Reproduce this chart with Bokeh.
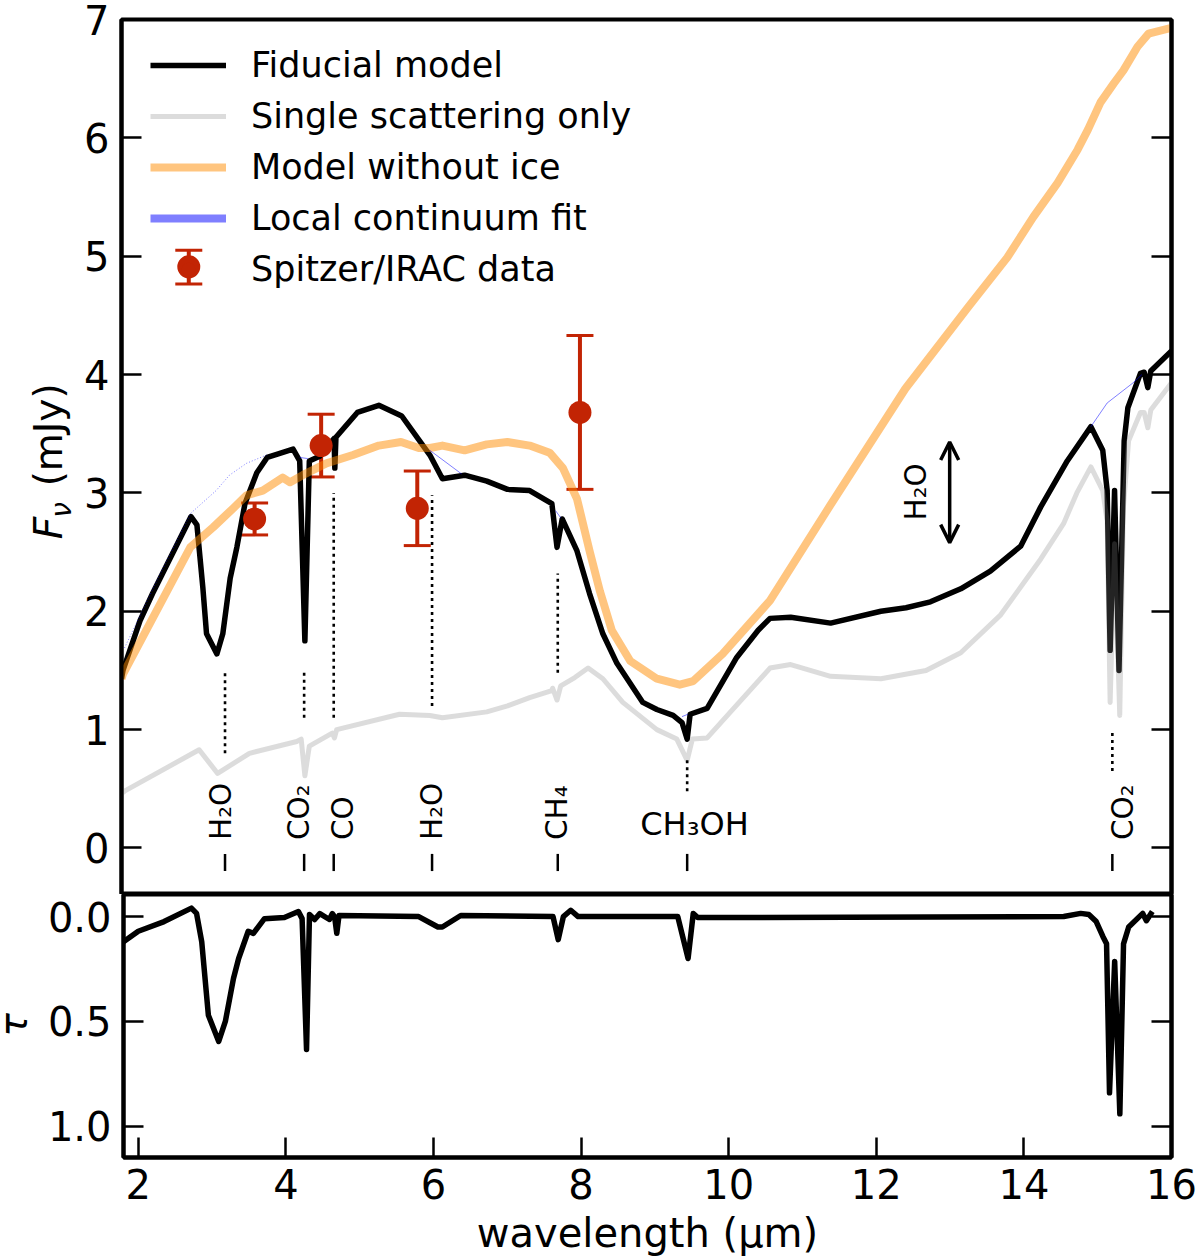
from bokeh.plotting import figure
from bokeh.layouts import column, row
from bokeh.models import (Arrow, OpenHead, Whisker, TeeHead, Label, Legend, LegendItem,
                          LinearAxis, FixedTicker, Range1d, ColumnDataSource)
from bokeh.embed import file_html
from bokeh.resources import INLINE

FONT = "DejaVu Sans"

fid_x = [1.80,1.82,2.05,2.22,2.74,2.82,2.90,2.95,3.09,3.17,3.27,3.36,3.47,3.63,3.77,3.92,4.12,4.21,4.28,4.34,4.48,4.62,4.675,4.685,4.70,4.99,5.28,5.59,5.97,6.14,6.44,6.74,7.02,7.32,7.62,7.69,7.76,7.96,8.13,8.31,8.50,8.85,9.04,9.26,9.38,9.45,9.49,9.72,10.12,10.41,10.57,10.85,11.39,12.07,12.41,12.74,13.15,13.55,13.96,14.23,14.59,14.91,15.07,15.13,15.17,15.23,15.29,15.36,15.41,15.58,15.63,15.68,15.72,16.0]
fid_y = [1.43,1.50,1.92,2.15,2.80,2.73,2.20,1.81,1.64,1.81,2.28,2.54,2.91,3.17,3.30,3.33,3.37,3.27,1.75,3.27,3.31,3.42,3.46,3.21,3.47,3.68,3.74,3.65,3.32,3.12,3.15,3.10,3.03,3.02,2.91,2.54,2.78,2.51,2.15,1.81,1.56,1.23,1.17,1.12,1.06,0.92,1.13,1.18,1.61,1.84,1.94,1.95,1.90,2.00,2.03,2.08,2.19,2.34,2.55,2.88,3.27,3.56,3.36,3.02,1.67,3.02,1.50,3.44,3.72,4.01,4.02,3.89,4.03,4.20]

single_x = [1.80,1.84,2.85,3.10,3.53,4.17,4.23,4.28,4.34,4.65,4.68,4.71,5.56,5.97,6.14,6.74,7.02,7.32,7.62,7.63,7.69,7.74,7.93,8.11,8.31,8.58,9.04,9.31,9.45,9.52,9.72,10.57,10.85,11.39,12.07,12.68,13.15,13.69,14.23,14.54,14.72,14.91,15.07,15.13,15.17,15.23,15.30,15.35,15.42,15.58,15.63,15.68,15.72,16.0]
single_y = [0.46,0.48,0.83,0.63,0.80,0.90,0.92,0.61,0.86,0.97,0.93,1.00,1.13,1.12,1.10,1.15,1.20,1.27,1.33,1.35,1.25,1.37,1.44,1.52,1.43,1.23,1.00,0.92,0.74,0.92,0.93,1.52,1.55,1.45,1.43,1.50,1.65,1.97,2.44,2.74,3.00,3.22,3.02,2.76,1.23,2.57,1.12,2.88,3.44,3.68,3.68,3.55,3.70,3.93]

noice_x = [1.80,1.82,2.73,3.04,3.31,3.49,3.71,3.98,4.08,4.25,4.57,4.93,5.28,5.58,5.82,5.97,6.14,6.44,6.74,7.02,7.32,7.59,7.77,7.96,8.13,8.27,8.43,8.68,9.04,9.35,9.53,9.93,10.57,11.38,12.40,13.25,13.78,14.13,14.46,14.73,14.87,15.04,15.22,15.35,15.54,15.69,16.0]
noice_y = [1.43,1.47,2.54,2.71,2.87,2.98,3.02,3.13,3.09,3.15,3.25,3.32,3.40,3.43,3.38,3.38,3.40,3.36,3.41,3.43,3.40,3.34,3.21,2.95,2.51,2.17,1.84,1.58,1.43,1.38,1.41,1.64,2.09,2.89,3.88,4.57,4.99,5.33,5.62,5.90,6.07,6.30,6.46,6.57,6.77,6.88,6.93]

cont_left_x = [1.84,2.31,2.74,3.08,3.26,3.49,3.76]
cont_left_y = [1.69,2.30,2.83,3.02,3.15,3.25,3.32]
cont_x = [[4.21,4.32],[5.97,6.40],[7.67,7.74],[9.38,9.46],[14.91,15.13,15.48,15.60]]
cont_y = [[3.30,3.29],[3.36,3.16],[2.85,2.79],[1.11,1.13],[3.56,3.76,3.93,4.00]]

irac_x = [3.60,4.50,5.80,8.00]
irac_y = [2.78,3.40,2.87,3.68]
irac_err = [0.135,0.265,0.315,0.65]

tau_x = [1.80,2.00,2.35,2.72,2.79,2.86,2.95,3.09,3.18,3.29,3.36,3.49,3.56,3.71,3.98,4.17,4.22,4.28,4.32,4.39,4.46,4.59,4.63,4.66,4.69,4.72,5.80,6.06,6.12,6.37,7.62,7.69,7.76,7.86,7.96,9.31,9.45,9.52,9.58,9.70,14.54,14.77,14.88,14.98,15.07,15.12,15.16,15.23,15.30,15.35,15.42,15.61,15.66,15.74]
tau_y = [0.12,0.07,0.024,-0.04,-0.015,0.12,0.47,0.595,0.50,0.295,0.20,0.07,0.08,0.01,0.005,-0.024,0.01,0.633,-0.01,0.014,-0.014,0.014,-0.014,0.0,0.08,-0.005,0.0,0.05,0.05,-0.005,0.0,0.11,0.0,-0.03,0.0,0.0,0.2,-0.015,0.005,0.005,0.0,-0.015,-0.01,0.024,0.095,0.13,0.84,0.214,0.94,0.13,0.05,-0.015,0.02,-0.024]

mol_names = ["H\u2082O","CO\u2082","CO","H\u2082O","CH\u2084","CO\u2082"]
dot_x = [3.20,4.27,4.67,6.00,7.70,9.45,15.20]
dot_top = [1.50,1.50,3.00,2.98,2.32,0.76,0.99]
dot_bot = [0.80,1.10,1.10,1.20,1.48,0.48,0.65]
bar_x = [3.20,4.27,4.67,6.00,7.70,9.45,15.20]

legend_labels = ["Fiducial model","Single scattering only","Model without ice","Local continuum fit","Spitzer/IRAC data"]
y_ticks = [0,1,2,3,4,5,6,7]
tau_ticks = [0.0,0.5,1.0]
x_ticks = [2,4,6,8,10,12,14,16]

RED = "#c22404"
GRAY = "#808080"
ORANGE = "#ff8c00"
BASE_SHIFT = 0.37   # em offset of Bokeh's alphabetic baseline


def style_axis(ax, ticks, size="40px"):
    ax.ticker = FixedTicker(ticks=ticks)
    ax.axis_line_color = "black"
    ax.axis_line_width = 4
    ax.major_tick_in = 20
    ax.major_tick_out = 0
    ax.minor_tick_in = 0
    ax.minor_tick_out = 0
    ax.major_tick_line_width = 2.5
    ax.major_tick_line_color = "black"
    ax.major_label_text_font = FONT
    ax.major_label_text_font_size = size
    ax.major_label_text_color = "black"
    ax.major_label_standoff = 12


def right_axis(fig, ticks):
    ax = LinearAxis()
    style_axis(ax, ticks, "1px")
    ax.major_label_overrides = {t: "" for t in ticks}
    ax.major_label_standoff = 0
    fig.add_layout(ax, "right")


def make_label(px, py, s, size, angle=0.0, align="left", style="normal", **units):
    if angle:
        px -= BASE_SHIFT * size
    else:
        py -= BASE_SHIFT * size
    return Label(x=px, y=py, text=s, angle=angle, angle_units="deg", text_font=FONT,
                 text_font_size=f"{size}px", text_font_style=style, text_align=align,
                 text_baseline="alphabetic", text_color="black", **units)


def in_main(s, px, py, size, **kw):
    lab = make_label(px, py, s, size, x_units="screen", y_units="screen", **kw)
    lab.x = lab.x - 122
    lab.y = 893 - lab.y
    p.add_layout(lab)


def side_fig(w, h, top, bottom):
    f = figure(width=w, height=h, output_backend="svg", toolbar_location=None,
               x_range=Range1d(1, 1 + w), y_range=Range1d(bottom, top),
               x_axis_location=None, y_axis_location=None,
               min_border=0, min_border_left=0, min_border_right=0, min_border_top=0, min_border_bottom=0)
    f.grid.visible = False
    f.outline_line_color = None
    return f


p = figure(width=1118, height=894, output_backend="svg", toolbar_location=None,
           x_range=Range1d(1.8, 16.0), y_range=Range1d(-0.393, 7.0),
           x_axis_location=None, min_border_left=41, min_border_right=27,
           min_border_top=19, min_border_bottom=0)
p.grid.visible = False
p.outline_line_color = "black"
p.outline_line_width = 4
p.background_fill_color = "white"
style_axis(p.yaxis[0], y_ticks)
right_axis(p, y_ticks)

# error bars (below the curves)
src = ColumnDataSource(dict(x=irac_x, y=irac_y,
                            up=[v + e for v, e in zip(irac_y, irac_err)],
                            lo=[v - e for v, e in zip(irac_y, irac_err)]))
p.add_layout(Whisker(base="x", upper="up", lower="lo", source=src, line_color=RED, line_width=4,
                     upper_head=TeeHead(size=27, line_color=RED, line_width=3),
                     lower_head=TeeHead(size=27, line_color=RED, line_width=3)))

r_fid = p.line(fid_x, fid_y, line_color="black", line_width=5.5, line_join="round")
r_pts = p.scatter("x", "y", source=src, size=23, fill_color=RED, line_color=RED, line_width=0)
r_single = p.line(single_x, single_y, line_color=GRAY, line_alpha=0.28, line_width=5, line_join="round")
r_noice = p.line(noice_x, noice_y, line_color=ORANGE, line_alpha=0.5, line_width=8, line_join="round")
r_left = p.line(cont_left_x, cont_left_y, line_color="blue", line_alpha=0.5, line_width=1)
r_left.glyph.line_dash = [1, 2]
p.multi_line(cont_x, cont_y, line_color="blue", line_alpha=0.5, line_width=1)
r_cont = p.line([float("nan")], [float("nan")], line_color="blue", line_alpha=0.5, line_width=8)

# molecule markers
r_dots = p.segment(dot_x, dot_bot, dot_x, dot_top, line_color="black", line_width=2.6)
r_dots.glyph.line_dash = [3, 4]
p.segment(bar_x, [-0.05] * len(bar_x), bar_x, [-0.195] * len(bar_x), line_color="black", line_width=2.5)
baselines = [232.7, 310, 354, 443, 568, 1134]
for name, bx in zip(mol_names, baselines):
    in_main(name, bx, 838.5, 29.5, angle=90)
in_main("CH\u2083OH", 695, 834, 32, align="center")
in_main("H\u2082O", 927, 519, 29.5, angle=90)

# double arrow
p.add_layout(Arrow(x_start=13.0, y_start=2.58, x_end=13.0, y_end=3.43, line_color="black", line_width=3.5,
                   start=OpenHead(size=18, line_color="black", line_width=3.5),
                   end=OpenHead(size=18, line_color="black", line_width=3.5)))

# legend
legend = Legend(items=[LegendItem(label=legend_labels[0], renderers=[r_fid]),
                       LegendItem(label=legend_labels[1], renderers=[r_single]),
                       LegendItem(label=legend_labels[2], renderers=[r_noice]),
                       LegendItem(label=legend_labels[3], renderers=[r_cont]),
                       LegendItem(label=legend_labels[4], renderers=[r_pts])],
                location=(29, 605), orientation="vertical", border_line_color=None,
                background_fill_alpha=0, padding=0, margin=0, spacing=11,
                glyph_width=76, glyph_height=34, label_height=34, label_standoff=25,
                label_text_font=FONT, label_text_font_size="35px", label_text_color="black",
                label_text_baseline="middle")
p.add_layout(legend)
# legend key error bar and marker for the IRAC entry
key = ColumnDataSource(dict(x=[2.71], y=[4.91], up=[5.05], lo=[4.765]))
p.add_layout(Whisker(base="x", upper="up", lower="lo", source=key, line_color=RED, line_width=4,
                     upper_head=TeeHead(size=27, line_color=RED, line_width=3),
                     lower_head=TeeHead(size=27, line_color=RED, line_width=3)))
p.scatter("x", "y", source=key, size=23, fill_color=RED, line_color=RED, line_width=0)

# panel holding the title of the upper y axis
fy = side_fig(80, 894, 1, 895)
fy.add_layout(make_label(63, 532, "F", 39, angle=90, style="italic"))
fy.add_layout(make_label(72, 510, "\u03bd", 28, angle=90, style="italic"))
fy.add_layout(make_label(63, 478, "(mJy)", 39, angle=90))

q = figure(width=1154, height=364, output_backend="svg", toolbar_location=None,
           x_range=p.x_range, y_range=Range1d(1.148, -0.105),
           min_border_left=77, min_border_right=27, min_border_top=0, min_border_bottom=101)
q.grid.visible = False
q.outline_line_color = "black"
q.outline_line_width = 4
q.background_fill_color = "white"
style_axis(q.yaxis[0], tau_ticks)
q.yaxis[0].major_label_overrides = {0.0: "0.0", 0.5: "0.5", 1.0: "1.0"}
right_axis(q, tau_ticks)
style_axis(q.xaxis[0], x_ticks)
q.xaxis[0].major_label_standoff = 11
q.xaxis[0].axis_label = "wavelength (\u03bcm)"
q.xaxis[0].axis_label_text_font = FONT
q.xaxis[0].axis_label_text_font_size = "40px"
q.xaxis[0].axis_label_text_font_style = "normal"
q.xaxis[0].axis_label_text_color = "black"
q.xaxis[0].axis_label_standoff = 8
q.line(tau_x, tau_y, line_color="black", line_width=5.5, line_join="round")

ft = side_fig(44, 364, 893, 1257)
ft.add_layout(make_label(28, 1090, "\u03c4", 39, angle=90, style="italic"))

layout = column(row(fy, p, spacing=0), row(ft, q, spacing=0), spacing=0)
open("out.html", "w").write(file_html(layout, INLINE))
